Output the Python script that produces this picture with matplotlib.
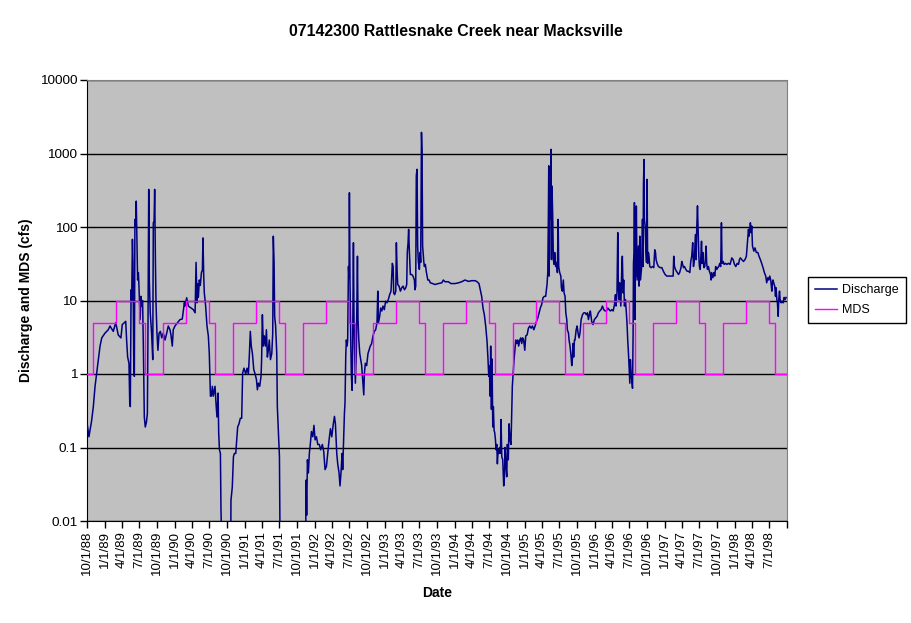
import numpy as np
import pandas as pd
import matplotlib
matplotlib.use("Agg")
import matplotlib.pyplot as plt

plt.rcParams['font.family'] = ['Liberation Sans', 'DejaVu Sans']

title = "07142300 Rattlesnake Creek near Macksville"
start_date = "1988-10-01"
end_date = "1998-10-01"

# Discharge: days since 10/1/1988 and daily discharge (cfs)
q_days = [
    2, 10, 24, 33, 42, 50, 59, 68, 77, 94, 111, 120, 137, 150, 163, 177, 184, 195, 202, 207,
    212, 219, 223, 226, 230, 233, 237, 240, 244, 247, 250, 254, 257, 261, 264, 268, 271, 277, 282, 285,
    290, 294, 299, 304, 310, 315, 318, 322, 325, 330, 337, 343, 346, 350, 353, 357, 360, 365, 370, 376,
    383, 390, 398, 407, 416, 424, 433, 438, 445, 450, 459, 473, 485, 497, 508, 511, 520, 529, 543, 555,
    564, 569, 574, 577, 581, 586, 591, 597, 602, 605, 609, 612, 619, 626, 633, 638, 644, 649, 654, 659,
    668, 673, 678, 684, 687, 691, 696, 699, 703, 705, 749,
    751, 758, 764, 769, 776, 781, 786, 793, 800, 807, 812, 819, 828, 835, 842, 847, 852, 857, 863, 870,
    877, 884, 889, 894, 901, 908, 911, 915, 920, 925, 931, 936, 941, 946, 951, 957, 964, 969, 972, 976,
    979, 984, 990, 993, 998, 1004, 1009, 1139,
    1143, 1146, 1150, 1155, 1160, 1165, 1171, 1178, 1184, 1190, 1197, 1204, 1212, 1219, 1228, 1235, 1242, 1249, 1256, 1263,
    1270, 1277, 1284, 1291, 1296, 1303, 1308, 1315, 1320, 1325, 1331, 1334, 1339, 1343, 1346, 1350, 1353, 1357, 1360, 1364,
    1367, 1369, 1372, 1376, 1379, 1383, 1386, 1390, 1393, 1397, 1400, 1405, 1411, 1414, 1418, 1423, 1428, 1433, 1438, 1444,
    1447, 1452, 1459,
    1466, 1471, 1478, 1485, 1492, 1499, 1506, 1513, 1517, 1520, 1527, 1532, 1538, 1544, 1551, 1558, 1565, 1572, 1579, 1586,
    1593, 1597, 1600, 1605, 1611, 1614, 1618, 1621, 1628, 1635, 1642, 1649, 1656, 1663, 1668, 1671, 1675, 1678, 1682, 1687,
    1694, 1701, 1708, 1711, 1715, 1718, 1722, 1725, 1729, 1734, 1738, 1741, 1745, 1748, 1751, 1757, 1760, 1765, 1771, 1778,
    1785, 1791, 1798, 1816, 1833, 1851, 1859, 1868, 1885, 1899, 1920, 1938, 1955, 1972, 1990, 2007, 2025, 2035, 2045, 2052,
    2059, 2066, 2073, 2080, 2087, 2092, 2096, 2099, 2103, 2106, 2110, 2113, 2117, 2120, 2124, 2127, 2131, 2134, 2138, 2141,
    2145, 2148, 2153, 2157, 2160, 2164, 2169, 2174, 2178, 2181, 2186,
    2190, 2193, 2198, 2202, 2207, 2212, 2216, 2219, 2223, 2228, 2232, 2237, 2242, 2247, 2252, 2258, 2263, 2268, 2273, 2278,
    2284, 2289, 2296, 2303, 2310, 2317, 2324, 2331, 2338, 2345, 2352, 2359, 2365, 2372, 2379, 2386, 2393, 2400, 2404, 2407,
    2409, 2411, 2414, 2418, 2419, 2421, 2423, 2426, 2430, 2433, 2437, 2440, 2445, 2451, 2454, 2458, 2461, 2466, 2472, 2475,
    2480, 2485, 2489, 2494, 2498, 2503, 2506, 2512, 2515, 2520, 2524, 2529, 2532, 2536, 2539, 2543, 2546, 2552, 2557, 2562,
    2567, 2572, 2578, 2585, 2592, 2599, 2605, 2611, 2616, 2621, 2626, 2633, 2640, 2647, 2654, 2661, 2668, 2675, 2682, 2689,
    2696, 2703, 2710, 2717, 2724, 2731, 2738, 2745, 2752, 2757, 2760, 2765, 2769, 2772, 2776, 2779, 2785, 2790, 2793, 2797,
    2800, 2804, 2809, 2814, 2818, 2821, 2825, 2828, 2832, 2835, 2839, 2842, 2846, 2849, 2851, 2854, 2856, 2859, 2861, 2863,
    2866, 2870, 2873, 2877, 2880, 2884, 2887, 2891, 2894, 2898, 2901, 2903, 2906, 2908, 2912, 2915, 2919,
    2922, 2925, 2929, 2932, 2936, 2943, 2950, 2957, 2962, 2966, 2969, 2974, 2981, 2990, 2999, 3007, 3016, 3025, 3033, 3042,
    3051, 3058, 3061, 3065, 3070, 3075, 3080, 3086, 3092, 3099, 3103, 3106, 3112, 3117, 3124, 3131, 3138, 3145, 3150, 3155,
    3160, 3164, 3169, 3174, 3178, 3181, 3185, 3188, 3192, 3195, 3199, 3202, 3206, 3209, 3213, 3216, 3219, 3223, 3226, 3230,
    3233, 3237, 3242, 3247, 3253, 3256, 3259, 3265, 3270, 3275, 3280, 3286, 3291, 3296, 3301, 3306, 3310, 3313, 3319, 3324,
    3331, 3338, 3346, 3355, 3364, 3371, 3378, 3385, 3392, 3399, 3404, 3409, 3416, 3425, 3433, 3440, 3444, 3447, 3451, 3454,
    3458, 3461, 3465, 3468, 3472, 3479, 3485, 3492, 3500, 3506, 3513, 3520, 3527, 3534, 3541, 3546, 3552, 3557, 3562, 3567,
    3573, 3576, 3579, 3585, 3588, 3592, 3595, 3599, 3602, 3606, 3609, 3613, 3616, 3621, 3626, 3632, 3637, 3642, 3647,
]
q_values = [
    0.2, 0.14, 0.23, 0.36, 0.68, 1.0, 1.57, 2.4, 3.1, 3.6, 4.0, 4.5, 3.8, 5.0, 3.4, 3.1, 4.7, 5.0, 5.2, 2.8,
    1.7, 1.4, 0.4, 0.36, 14, 10, 68, 33, 1.3, 0.93, 127, 100, 225, 61, 19, 24, 16, 5.5, 11.4, 8.4,
    10, 2.4, 0.26, 0.19, 0.22, 0.29, 3.6, 325, 19, 6.8, 3.6, 1.57, 114, 120, 325, 33, 9.3, 3.6, 2.1, 3.6,
    3.8, 3.1, 3.6, 2.9, 3.6, 4.5, 4.0, 3.4, 2.4, 4.0, 4.5, 5.0, 5.5, 5.6, 9.3, 8.4, 10.9, 8.4, 7.9, 7.5,
    6.8, 33, 9.3, 17, 11, 19, 16, 24, 26, 71, 21, 12.7, 8.4, 4.5, 3.3, 1.9, 0.5, 0.5, 0.68, 0.5,
    0.68, 0.4, 0.26, 0.55, 0.16, 0.093, 0.083, 0.014, 0.005, 0.001, 0.001,
    0.019, 0.029, 0.075, 0.083, 0.083, 0.127, 0.19, 0.21, 0.25, 0.25, 1.03, 1.2, 1.0, 1.2, 1.0, 1.8, 3.8, 2.4, 1.9, 1.15,
    1.0, 0.84, 0.61, 0.75, 0.68, 0.93, 1.57, 6.4, 2.4, 3.3, 2.4, 4.0, 1.7, 2.1, 2.9, 1.57, 1.9, 3.6, 75, 33,
    6.1, 4.5, 1.9, 0.36, 0.17, 0.075, 0.001, 0.001,
    0.036, 0.012, 0.068, 0.045, 0.083, 0.11, 0.165, 0.14, 0.2, 0.127, 0.14, 0.11, 0.11, 0.093, 0.11, 0.088, 0.05, 0.055, 0.083, 0.127,
    0.18, 0.14, 0.2, 0.265, 0.21, 0.083, 0.06, 0.045, 0.03, 0.045, 0.083, 0.05, 0.14, 0.29, 0.4, 1.8, 2.9, 2.4, 2.9, 29,
    20, 292, 19, 2.9, 1.0, 0.6, 2.4, 61, 5.5, 1.9, 0.75, 1.9, 40, 5.5, 2.9, 1.9, 1.57, 1.3, 0.84, 0.52,
    1.0, 1.4, 1.3,
    1.9, 2.1, 2.4, 2.6, 3.3, 3.8, 4.0, 5.0, 13.4, 5.0, 6.1, 7.9, 7.2, 8.4, 7.5, 9.8, 9.3, 10.3, 12, 13.4,
    32, 29, 12.7, 12, 13.4, 61, 25, 16.5, 15.7, 13.4, 14.9, 15.7, 14, 14.9, 16.5, 45, 61, 93, 45, 22.6,
    22.6, 21.5, 19, 14, 15.7, 500, 610, 55, 33, 26.5, 45, 33, 1940, 1040, 55, 34, 29, 31, 24, 19,
    19, 17.4, 17.2, 16.5, 17, 17.4, 19, 18, 18, 17, 17, 17.4, 18, 19, 18.2, 18.6, 18.6, 18, 17, 14,
    11.4, 7.9, 6.4, 4.5, 2.8, 1.6, 0.93, 1.3, 0.5, 2.4, 0.33, 1.6, 0.19, 0.36, 0.17, 0.16, 0.127, 0.093, 0.11, 0.06,
    0.093, 0.083, 0.1, 0.083, 0.24, 0.075, 0.068, 0.03, 0.04, 0.1, 0.055,
    0.04, 0.11, 0.068, 0.21, 0.127, 0.11, 0.29, 0.68, 1.0, 1.57, 2.1, 2.9, 2.6, 2.9, 2.4, 2.9, 3.1, 2.6, 3.1, 2.9,
    2.1, 3.3, 3.4, 4.2, 4.5, 4.2, 4.5, 4.0, 4.5, 5.2, 5.8, 6.8, 7.9, 8.8, 10.9, 11.4, 11.4, 16.5, 24, 141,
    680, 21.5, 293, 127, 326, 1140, 36, 360, 127, 36, 31, 45, 29, 33, 24, 127, 29, 24, 21.5, 14.9,
    13.4, 19, 12.7, 11.4, 6.8, 5.5, 4.0, 3.6, 2.9, 2.4, 1.9, 1.3, 1.57, 2.6, 1.7, 2.9, 2.9, 4.0, 4.5, 3.6,
    3.1, 3.6, 5.5, 6.4, 6.8, 6.8, 6.4, 6.8, 5.5, 6.4, 7.2, 5.2, 4.7, 5.5, 5.8, 6.1, 6.8, 7.2, 7.5, 8.4,
    7.5, 7.2, 7.2, 7.9, 7.5, 7.2, 7.5, 7.2, 8.8, 12, 8.4, 12.7, 84, 15.7, 10.3, 17.4, 8.4, 26.5, 40, 12.7,
    19, 8.4, 10.3, 6.8, 4.5, 2.9, 1.9, 1.3, 0.75, 1.57, 1.0, 0.84, 0.64, 3.3, 32, 45, 215, 5.5, 157, 21.5,
    193, 19, 29, 55, 15.7, 75, 19, 24, 29, 127, 29, 360, 830, 127, 103, 55, 33,
    445, 32, 45, 40, 29, 28, 29, 28, 49, 45, 36, 32, 29, 28, 28, 25, 22.6, 21.5, 21.5, 21.5,
    21.5, 21.5, 40, 29, 26.5, 25, 24, 22.6, 24, 28, 34, 32, 28, 29, 26.5, 25, 25, 24, 34, 40,
    61, 29, 36, 79, 36, 93, 194, 93, 40, 29, 26.5, 36, 64, 32, 45, 32, 28, 29, 36, 55,
    32, 26.5, 29, 25, 22.6, 19, 24, 20.4, 24, 21.5, 29, 26.5, 28, 29, 32, 29, 114, 32, 34, 31,
    32, 31, 32, 31, 38, 36, 31, 29, 32, 31, 36, 38, 36, 34, 36, 40, 55, 68, 93, 75,
    93, 114, 84, 103, 55, 47, 52, 45, 45, 40, 36, 32, 28, 24, 21.5, 17.4, 20.4, 19, 21.5, 19,
    13.4, 17.4, 19, 16.5, 15.7, 11.4, 14.9, 10.3, 9.3, 6.1, 10.3, 13.4, 10.3, 9.3, 9.8, 9.3, 11, 10.3, 11,
]

# MDS threshold (cfs) by calendar month, Jan..Dec
mds_by_month = [5, 5, 10, 10, 10, 10, 5, 1, 1, 1, 5, 5]

y_ticks = [0.01, 0.1, 1, 10, 100, 1000, 10000]
y_tick_labels = ["0.01", "0.1", "1", "10", "100", "1000", "10000"]

base = pd.Timestamp(start_date)
q_dates = base + pd.to_timedelta(q_days, unit="D")

mds_dates = pd.date_range(start_date, end_date, freq="MS")
mds_vals = [mds_by_month[d.month - 1] for d in mds_dates]

fig = plt.figure(figsize=(9.11, 6.23), dpi=100)
ax = fig.add_axes([87 / 911, 1 - 521 / 623, 700 / 911, 441 / 623])
ax.set_facecolor("#C0C0C0")

ax.plot(q_dates, q_values, color="#000080", lw=1.1, label="Discharge", zorder=3)
ax.plot(mds_dates, mds_vals, color="#FF00FF", lw=1.0, drawstyle="steps-post", label="MDS", zorder=4)

ax.set_yscale("log")
ax.set_ylim(0.01, 10000)
ax.set_yticks(y_ticks)
ax.set_yticklabels(y_tick_labels)
ax.yaxis.set_minor_locator(matplotlib.ticker.NullLocator())
ax.grid(axis="y", color="black", lw=1.0)
ax.set_axisbelow(True)

xt = pd.date_range(start_date, end_date, freq="3MS")
ax.set_xlim(pd.Timestamp(start_date), pd.Timestamp(end_date))
ax.set_xticks(xt)
ax.set_xticklabels([f"{d.month}/{d.day}/{d.strftime('%y')}" if d < pd.Timestamp(end_date) else "" for d in xt],
                   rotation=90, fontsize=9.5)
ax.tick_params(axis="y", labelsize=9.7, length=5, width=1, direction="out", pad=2)
ax.tick_params(axis="x", length=5, width=1, direction="out", pad=2)

for s in ["top", "right"]:
    ax.spines[s].set_color("#808080")
for s in ["left", "bottom"]:
    ax.spines[s].set_color("black")

ax.set_xlabel("Date", fontsize=10, fontweight="bold", labelpad=8)
ax.set_ylabel("Discharge and MDS (cfs)", fontsize=10, fontweight="bold", labelpad=5)
fig.text(0.5, 1 - 32 / 623, title, ha="center", va="center", fontsize=11.4, fontweight="bold")

leg = fig.legend(loc="upper left", bbox_to_anchor=(808 / 911, 1 - 277 / 623), frameon=True,
                 fancybox=False, edgecolor="black", framealpha=1, fontsize=9.0,
                 handlelength=1.8, borderpad=0.55, labelspacing=0.65, handletextpad=0.4,
                 borderaxespad=0.0)
leg.get_frame().set_linewidth(1.0)

fig.savefig("out.png", dpi=100)
